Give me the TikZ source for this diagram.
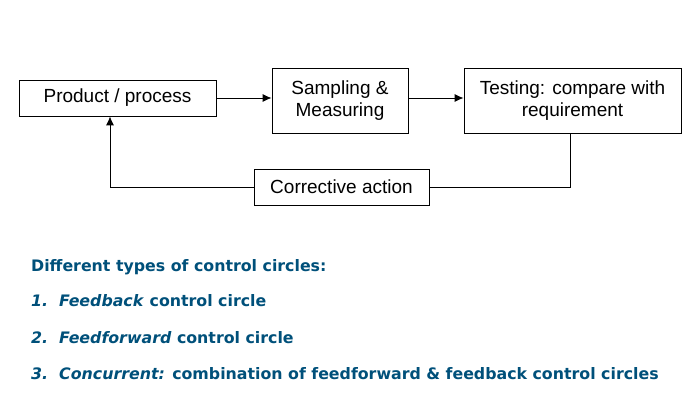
\documentclass[tikz,border=0pt]{standalone}
\usepackage{fontspec}
\setmainfont{Liberation Sans}
\newfontfamily\listfont{DejaVu Sans}
\usetikzlibrary{positioning,arrows.meta}
\definecolor{listblue}{RGB}{0,80,122}
\begin{document}
\begin{tikzpicture}[x=1pt,y=-1pt,
box/.style={
  draw,
  thick,
  font=\fontsize{19}{22}\selectfont,
  align=center,
  inner sep=0pt
},
item/.style={
  anchor=west,
  inner sep=0pt,
  text=listblue,
  font=\listfont\bfseries\fontsize{15.8}{18}\selectfont
},
conn/.style={
  thick
}
]
\useasboundingbox (0,0) rectangle (697,411);
\node[box,minimum width=197pt,minimum height=36pt] at (117.5,98)
  (prod) {Product / process};
\node[box,minimum width=136pt,minimum height=65pt] at (340,100.5)
  (samp) {Sampling \&\\ Measuring};
\node[box,minimum width=217pt,minimum height=65pt] at (572.5,100.5)
  (test) {Testing: compare with\\ requirement};
\node[box,minimum width=175pt,minimum height=36pt] at (341.5,187)
  (corr) {Corrective action};

\draw[conn,-{Latex[length=9pt,width=8pt]}] (prod.east) -- (prod.east-|samp.west);
\draw[conn,-{Latex[length=9pt,width=8pt]}] (samp.east|-prod.east) -- (prod.east-|test.west);
\draw[conn] (test.south-|570,0) |- (corr.east);
\draw[conn,-{Latex[length=9pt,width=8pt]}] (corr.west) -| (prod.south-|110,0);

% list of circle types
\node[item] at (31,267) (head) {Different types of control circles:};
\node[item] at (31,301) (one) {\textit{1.\ \ Feedback} control circle};
\node[item] at (31,338) (two) {\textit{2.\ \ Feedforward} control circle};
\node[item] at (31,374) (three) {\textit{3.\ \ Concurrent:} combination of feedforward \& feedback control circles};
\end{tikzpicture}
\end{document}
